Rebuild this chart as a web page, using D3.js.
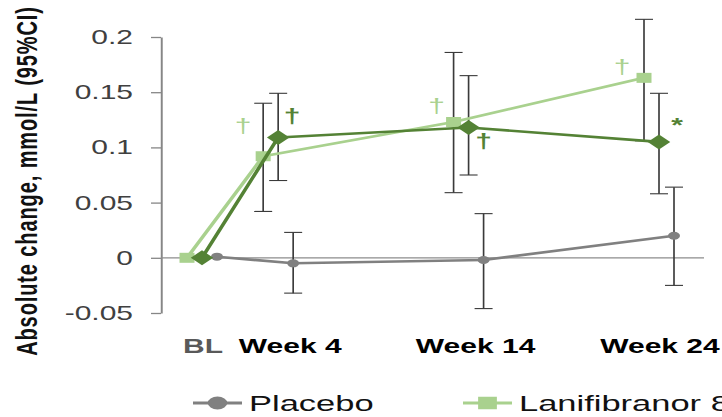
<!DOCTYPE html>
<html>
<head>
<meta charset="utf-8">
<script src="https://cdn.jsdelivr.net/npm/d3@7"></script>
<style>
	body { margin: 0; background: #fff; }
	text { font-family: 'Liberation Sans', Arial, sans-serif; }
</style>
</head>
<body>
<svg id="chart"></svg>
<script>
// chart data
const weeks = [0, 4, 14, 24];
const weekLabels = ['BL', 'Week 4', 'Week 14', 'Week 24'];
const yTicks = [-0.05, 0, 0.05, 0.1, 0.15, 0.2];
const seriesNames = ['Placebo', 'Lanifibranor 800 mg', 'Lanifibranor 1200 mg'];

const placeboMean = [0.001, -0.005, -0.002, 0.020];
const placeboLow = [null, -0.032, -0.046, -0.025];
const placeboHigh = [null, 0.023, 0.040, 0.064];

const lani800Mean = [0, 0.092, 0.123, 0.163];
const lani800Low = [null, 0.042, 0.059, 0.106];
const lani800High = [null, 0.140, 0.186, 0.216];
const lani800Marks = ['', '\u2020', '\u2020', '\u2020'];

const lani1200Mean = [0, 0.109, 0.118, 0.105];
const lani1200Low = [null, 0.070, 0.075, 0.058];
const lani1200High = [null, 0.149, 0.165, 0.149];
const lani1200Marks = ['', '\u2020', '\u2020', '*'];

// the picture is stretched sideways, so draw in a squeezed space and scale x back
const S = 1.5;
let svg = d3.select('#chart').attr('width', 722).attr('height', 417);
svg.append('rect').attr('width', 722).attr('height', 417).attr('fill', '#fff');
let g = svg.append('g').attr('transform', 'scale(' + S + ',1)');

let xScale = d3.scaleLinear().domain([0, 24]).range([202 / S, 659 / S]);
let yScale = d3.scaleLinear().domain([-0.05, 0.2]).range([313, 37]);

// y axis
let yAxis = g.append('g')
	.attr('transform', 'translate(' + (161 / S) + ',0)')
	.call(d3.axisLeft(yScale).tickValues(yTicks).tickSize(10 / S).tickSizeOuter(0).tickPadding(12)
		.tickFormat(function(d) { return d; }));
yAxis.select('.domain').attr('stroke', '#868686').attr('stroke-width', 1.3);
yAxis.selectAll('.tick line').attr('stroke', '#868686').attr('stroke-width', 1.3);
yAxis.selectAll('.tick text')
	.attr('font-family', "'Liberation Sans', Arial, sans-serif")
	.attr('font-size', 20).attr('fill', '#404040');

// zero line
g.append('line')
	.attr('x1', 161 / S).attr('x2', 704 / S)
	.attr('y1', yScale(0)).attr('y2', yScale(0))
	.attr('stroke', '#8c8c8c').attr('stroke-width', 1.3);

// y title
g.append('text')
	.attr('transform', 'translate(' + (37 / S) + ',181) rotate(-90)')
	.attr('text-anchor', 'middle')
	.attr('font-size', 20).attr('font-weight', 'bold')
	.attr('letter-spacing', 0.9)
	.attr('fill', '#111')
	.text('Absolute change, mmol/L (95%CI)');

// x labels
const labelShift = [1, 12, 7, 1];
g.selectAll('.xlabel').data(weekLabels).enter().append('text')
	.attr('class', 'xlabel')
	.attr('x', function(d, i) { return xScale(weeks[i]) + labelShift[i] / S; })
	.attr('y', 353)
	.attr('text-anchor', 'middle')
	.attr('font-size', 20).attr('font-weight', 'bold')
	.attr('fill', function(d, i) { return i === 0 ? '#595959' : '#000'; })
	.text(function(d) { return d; });

let series = [
	{ name: seriesNames[0], mean: placeboMean, low: placeboLow, high: placeboHigh, marks: null, color: '#808080', shape: 'circle', dodge: 15 },
	{ name: seriesNames[1], mean: lani800Mean, low: lani800Low, high: lani800High, marks: lani800Marks, color: '#a9d18e', shape: 'square', dodge: -15 },
	{ name: seriesNames[2], mean: lani1200Mean, low: lani1200Low, high: lani1200High, marks: lani1200Marks, color: '#548235', shape: 'diamond', dodge: 0 }
];

function px(s, i) { return xScale(weeks[i]) + s.dodge / S; }

// error bars under everything
series.forEach(function(s) {
	let bars = g.append('g');
	weeks.forEach(function(w, i) {
		if (s.low[i] === null) return;
		let x = px(s, i);
		bars.append('line').attr('x1', x).attr('x2', x)
			.attr('y1', yScale(s.low[i])).attr('y2', yScale(s.high[i]));
		[s.low[i], s.high[i]].forEach(function(v) {
			bars.append('line').attr('x1', x - 6).attr('x2', x + 6)
				.attr('y1', yScale(v)).attr('y2', yScale(v));
		});
	});
	bars.selectAll('line').attr('stroke', '#3a3a3a').attr('stroke-width', 1.1);
});

function drawMarker(sel, shape, x, y, size, color) {
	if (shape === 'circle') {
		sel.append('circle').attr('cx', x).attr('cy', y).attr('r', size / 2).attr('fill', color);
	} else if (shape === 'square') {
		sel.append('rect').attr('x', x - size / 2).attr('y', y - size / 2)
			.attr('width', size).attr('height', size).attr('fill', color);
	} else {
		let r = size * 0.75;
		sel.append('path')
			.attr('d', 'M' + x + ',' + (y - r) + 'L' + (x + r) + ',' + y + 'L' + x + ',' + (y + r) + 'L' + (x - r) + ',' + y + 'Z')
			.attr('fill', color);
	}
}

const markerSize = { circle: 8, square: 10, diamond: 10 };

// lines and markers
series.forEach(function(s) {
	let line = d3.line()
		.x(function(d, i) { return px(s, i); })
		.y(function(d) { return yScale(d); });
	g.append('path').datum(s.mean)
		.attr('d', line)
		.attr('fill', 'none')
		.attr('stroke', s.color)
		.attr('stroke-width', 2.6)
		.attr('stroke-linejoin', 'round');
	s.mean.forEach(function(v, i) {
		drawMarker(g, s.shape, px(s, i), yScale(v), markerSize[s.shape], s.color);
	});
});

// significance marks, offsets in screen pixels from each point
const markOffsets = {
	1: [null, [-20, -29], [-17, -15], [-22, -10]],
	2: [null, [14, -20], [15, 14], [18, -21]]
};
[1, 2].forEach(function(k) {
	let s = series[k];
	s.marks.forEach(function(m, i) {
		if (!m) return;
		let off = markOffsets[k][i];
		g.append('text')
			.attr('x', px(s, i) + off[0] / S)
			.attr('y', yScale(s.mean[i]) + off[1] + (m === '*' ? 11 : 6))
			.attr('text-anchor', 'middle')
			.attr('font-size', 20)
			.attr('font-weight', k === 2 ? 'bold' : 'normal')
			.attr('fill', s.color)
			.text(m);
	});
});

// legend
const legendX = [193, 463];
[0, 1].forEach(function(k) {
	let s = series[k];
	let x0 = legendX[k];
	let lg = g.append('g');
	lg.append('line')
		.attr('x1', x0 / S).attr('x2', (x0 + 49) / S)
		.attr('y1', 403).attr('y2', 403)
		.attr('stroke', s.color).attr('stroke-width', 3);
	drawMarker(lg, s.shape, (x0 + 24.5) / S, 403, k === 0 ? 13 : 12.5, s.color);
	lg.append('text')
		.attr('x', (x0 + 56) / S)
		.attr('y', 411)
		.attr('font-size', 23)
		.attr('fill', '#111')
		.text(s.name);
});
</script>
</body>
</html>
